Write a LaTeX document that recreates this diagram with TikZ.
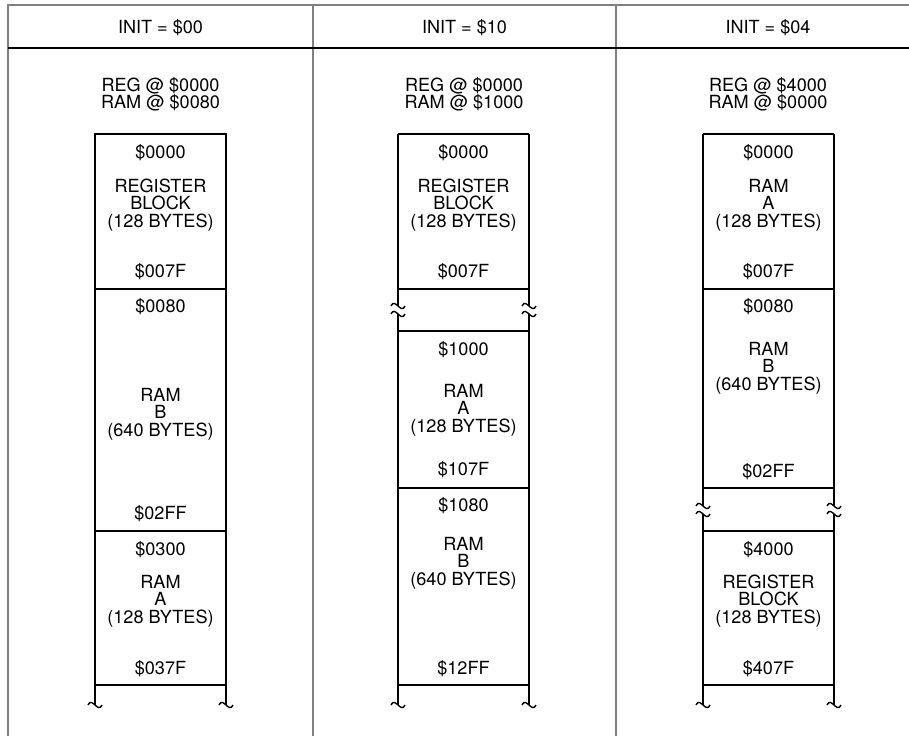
\documentclass[tikz,border=0pt]{standalone}
\usepackage{fontspec}
\setmainfont{TeX Gyre Heros}
\definecolor{framegray}{RGB}{128,128,128}
\begin{document}
\begin{tikzpicture}[x=0.02cm,y=-0.02cm,
  frame/.style={draw=framegray,line width=1.1pt},
  hdrline/.style={draw=black,line width=0.8pt},
  mem/.style={draw=black,line width=1.1pt},
  brk/.style={draw=black,line width=0.8pt},
  lbl/.style={font=\fontsize{10.3}{10}\selectfont,inner sep=0pt,align=center,text=black},
  hlbl/.style={font=\fontsize{10.3}{9.6}\selectfont,inner sep=0pt,align=center,text=black},
  tld/.pic={\draw[brk] (-7,0) .. controls (-3,-9) and (3,9) .. (7,0);}]
\useasboundingbox (0,0) rectangle (909,736);
% frame
\draw[frame] (8,736) -- (8,5) -- (909,5);
\draw[frame] (313,5) -- (313,736);
\draw[frame] (616,5) -- (616,736);
\draw[hdrline] (8,48) -- (909,48);
% headers
\node[lbl] (h1) at (160.5,28) {INIT = \$00};
\node[lbl] (h2) at (464.5,28) {INIT = \$10};
\node[lbl] (h3) at (768,28) {INIT = \$04};
\node[hlbl] (m1) at (160.5,94) {REG @ \$0000\\RAM @ \$0080};
\node[hlbl] (m2) at (464,94) {REG @ \$0000\\RAM @ \$1000};
\node[hlbl] (m3) at (768,94) {REG @ \$4000\\RAM @ \$0000};
% ---------- column 1 ----------
\draw[mem] (95,134) rectangle (226,685);
\draw[mem] (95,289) -- (226,289);
\draw[mem] (95,531) -- (226,531);
\draw[mem] (95,685) -- (95,705) (226,685) -- (226,705);
\pic at (95,705) {tld};
\pic at (226,705) {tld};
\node[lbl] (a1) at (160.5,153) {\$0000};
\node[lbl] (a2) at (160.5,205) {REGISTER\\BLOCK\\(128 BYTES)};
\node[lbl] (a3) at (160.5,272) {\$007F};
\node[lbl] (a4) at (160.5,307) {\$0080};
\node[lbl] (a5) at (160.5,414) {RAM\\B\\(640 BYTES)};
\node[lbl] (a6) at (160.5,514) {\$02FF};
\node[lbl] (a7) at (160.5,550) {\$0300};
\node[lbl] (a8) at (160.5,601) {RAM\\A\\(128 BYTES)};
\node[lbl] (a9) at (160.5,669) {\$037F};
% ---------- column 2 ----------
\draw[mem] (398,134) -- (529,134);
\draw[mem] (398,289) -- (529,289);
\draw[mem] (398,331) -- (529,331);
\draw[mem] (398,488) -- (529,488);
\draw[mem] (398,685) -- (529,685);
\draw[mem] (398,134) -- (398,306) (529,134) -- (529,306);
\draw[mem] (398,314) -- (398,705) (529,314) -- (529,705);
\pic at (398,306) {tld};
\pic at (398,314) {tld};
\pic at (529,306) {tld};
\pic at (529,314) {tld};
\pic at (398,705) {tld};
\pic at (529,705) {tld};
\node[lbl] (b1) at (463.5,153) {\$0000};
\node[lbl] (b2) at (463.5,205) {REGISTER\\BLOCK\\(128 BYTES)};
\node[lbl] (b3) at (463.5,272) {\$007F};
\node[lbl] (b4) at (463.5,350) {\$1000};
\node[lbl] (b5) at (463.5,410) {RAM\\A\\(128 BYTES)};
\node[lbl] (b6) at (463.5,470) {\$107F};
\node[lbl] (b7) at (463.5,506) {\$1080};
\node[lbl] (b8) at (463.5,563) {RAM\\B\\(640 BYTES)};
\node[lbl] (b9) at (463.5,669) {\$12FF};
% ---------- column 3 ----------
\draw[mem] (703,134) -- (834,134);
\draw[mem] (703,289) -- (834,289);
\draw[mem] (703,488) -- (834,488);
\draw[mem] (703,531) -- (834,531);
\draw[mem] (703,685) -- (834,685);
\draw[mem] (703,134) -- (703,506) (834,134) -- (834,506);
\draw[mem] (703,514) -- (703,705) (834,514) -- (834,705);
\pic at (703,506) {tld};
\pic at (703,514) {tld};
\pic at (834,506) {tld};
\pic at (834,514) {tld};
\pic at (703,705) {tld};
\pic at (834,705) {tld};
\node[lbl] (c1) at (768.5,153) {\$0000};
\node[lbl] (c2) at (768.5,205) {RAM\\A\\(128 BYTES)};
\node[lbl] (c3) at (768.5,272) {\$007F};
\node[lbl] (c4) at (768.5,307) {\$0080};
\node[lbl] (c5) at (768.5,368) {RAM\\B\\(640 BYTES)};
\node[lbl] (c6) at (768.5,472) {\$02FF};
\node[lbl] (c7) at (768.5,550) {\$4000};
\node[lbl] (c8) at (768.5,601) {REGISTER\\BLOCK\\(128 BYTES)};
\node[lbl] (c9) at (768.5,669) {\$407F};
\end{tikzpicture}
\end{document}
